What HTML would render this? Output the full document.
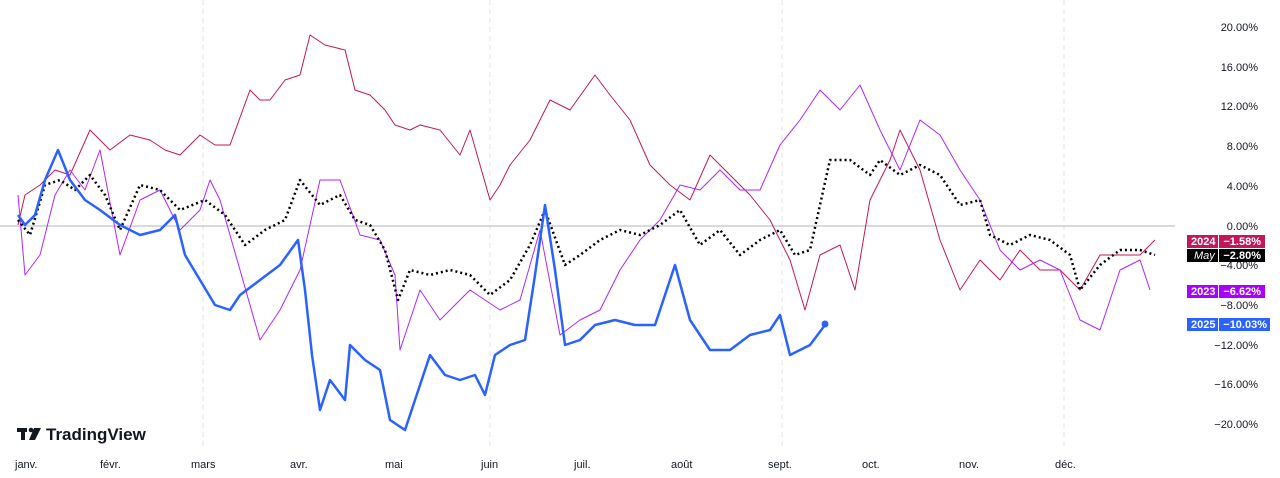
<!DOCTYPE html>
<html><head><meta charset="utf-8"><style>
body{margin:0;background:#fff;font-family:"Liberation Sans",sans-serif}
svg{display:block}
</style></head><body>
<svg width="1280" height="478" xmlns="http://www.w3.org/2000/svg" font-family="Liberation Sans, sans-serif">
<rect width="1280" height="478" fill="#fff"/>
<g stroke="#e0e3eb" stroke-dasharray="5,4" stroke-width="1">
<line x1="203" y1="0" x2="203" y2="450"/><line x1="490" y1="0" x2="490" y2="450"/>
<line x1="782" y1="0" x2="782" y2="450"/><line x1="1064" y1="0" x2="1064" y2="450"/>
</g>
<line x1="0" y1="226" x2="1175" y2="226" stroke="#b2b5be" stroke-width="1"/>
<g font-size="11" fill="#131722" text-anchor="end">
<text x="1258" y="31">20.00%</text><text x="1258" y="71">16.00%</text><text x="1258" y="110">12.00%</text>
<text x="1258" y="150">8.00%</text><text x="1258" y="190">4.00%</text><text x="1258" y="230">0.00%</text>
<text x="1258" y="269">−4.00%</text><text x="1258" y="309">−8.00%</text><text x="1258" y="349">−12.00%</text>
<text x="1258" y="388">−16.00%</text><text x="1258" y="428">−20.00%</text>
</g>
<g font-size="11" fill="#131722">
<text x="15" y="468">janv.</text><text x="100" y="468">févr.</text><text x="191" y="468">mars</text>
<text x="290" y="468">avr.</text><text x="385" y="468">mai</text><text x="481" y="468">juin</text>
<text x="574" y="468">juil.</text><text x="671" y="468">août</text><text x="768" y="468">sept.</text>
<text x="862" y="468">oct.</text><text x="959" y="468">nov.</text><text x="1055" y="468">déc.</text>
</g>
<g fill="none" stroke-linejoin="round">
<polyline stroke="#c2185b" stroke-width="1" points="18,225 25,195 40,185 55,170 70,175 90,130 110,150 130,135 150,140 165,150 180,155 200,135 215,145 230,145 250,90 260,100 270,100 285,80 300,75 310,35 325,45 345,50 355,90 370,95 385,110 395,125 410,130 420,125 440,130 460,155 470,130 490,200 500,185 510,165 530,140 550,100 570,110 595,75 610,95 630,120 650,165 670,185 690,200 710,155 730,175 750,195 770,220 790,260 805,310 820,255 840,245 855,290 870,200 880,180 890,160 900,130 920,170 940,240 960,290 980,260 1000,280 1020,250 1040,270 1060,270 1080,290 1100,255 1120,255 1140,255 1155,240"/>
<polyline stroke="#b026ff" stroke-width="1" points="18,195 25,275 40,255 55,195 70,170 85,190 100,150 120,255 140,200 160,190 180,230 200,210 210,180 220,200 240,270 260,340 280,310 300,270 320,180 340,180 360,235 380,240 395,275 400,350 420,290 440,320 470,290 500,310 520,300 540,230 560,335 580,320 600,310 620,270 640,240 660,220 680,185 700,190 720,170 740,190 760,190 780,145 800,120 820,90 840,110 860,85 880,130 900,170 920,120 940,135 960,170 980,200 1000,250 1020,270 1040,260 1060,270 1080,320 1100,330 1120,270 1140,260 1150,290"/>
<polyline stroke="#000" stroke-width="2.5" stroke-dasharray="2,3" points="18,220 30,235 45,185 60,180 75,190 90,175 105,195 120,230 140,185 160,190 180,210 205,200 225,215 245,245 265,230 285,220 300,180 320,205 340,195 355,220 370,225 385,250 398,300 410,270 430,275 450,270 470,275 490,295 510,280 530,245 545,210 565,265 580,255 600,240 620,230 640,235 660,225 680,210 700,245 720,230 740,255 760,240 780,230 795,255 810,250 830,160 850,160 870,175 880,160 900,175 920,165 940,175 960,205 980,200 990,235 1010,245 1030,235 1050,240 1070,255 1080,290 1100,265 1120,250 1140,250 1155,255"/>
<polyline stroke="#2962ff" stroke-width="2.5" points="18,215 25,225 35,215 45,180 58,150 70,180 85,200 100,210 120,225 140,235 160,230 175,215 185,255 200,280 215,305 230,310 240,295 260,280 280,265 298,240 305,290 312,355 320,410 330,380 345,400 350,345 365,360 380,370 390,420 405,430 415,400 430,355 445,375 460,380 475,375 485,395 495,355 510,345 525,340 535,275 545,205 555,270 565,345 580,340 595,325 615,320 635,325 655,325 675,265 690,320 710,350 730,350 750,335 770,330 780,315 790,355 810,345 825,325"/>
</g>
<circle cx="825" cy="324" r="3.5" fill="#2962ff"/>
<g font-size="11" font-weight="bold">
<rect x="1187" y="235" width="31" height="13" fill="#c2185b"/><rect x="1219" y="235" width="46" height="13" fill="#c2185b"/>
<text x="1191" y="245" fill="#fff">2024</text><text x="1261" y="245" fill="#fff" text-anchor="end">−1.58%</text>
<rect x="1187" y="249" width="31" height="13" fill="#000"/><rect x="1219" y="249" width="46" height="13" fill="#000"/>
<text x="1194" y="259" fill="#fff" font-style="italic" font-weight="normal">May</text><text x="1261" y="259" fill="#fff" text-anchor="end">−2.80%</text>
<rect x="1187" y="285" width="31" height="13" fill="#aa00ff"/><rect x="1219" y="285" width="46" height="13" fill="#aa00ff"/>
<text x="1191" y="295" fill="#fff">2023</text><text x="1261" y="295" fill="#fff" text-anchor="end">−6.62%</text>
<rect x="1187" y="318" width="31" height="13" fill="#2962ff"/><rect x="1219" y="318" width="51" height="13" fill="#2962ff"/>
<text x="1191" y="328" fill="#fff">2025</text><text x="1267" y="328" fill="#fff" text-anchor="end">−10.03%</text>
</g>
<g fill="#131722">
<rect x="17" y="428" width="10" height="4"/><rect x="21" y="428" width="4" height="12"/>
<circle cx="31" cy="430" r="2.3"/><polygon points="34,428 41,428 35,440 29,440"/>
<text x="46" y="440" font-size="17" font-weight="bold">TradingView</text>
</g>
</svg>
</body></html>
